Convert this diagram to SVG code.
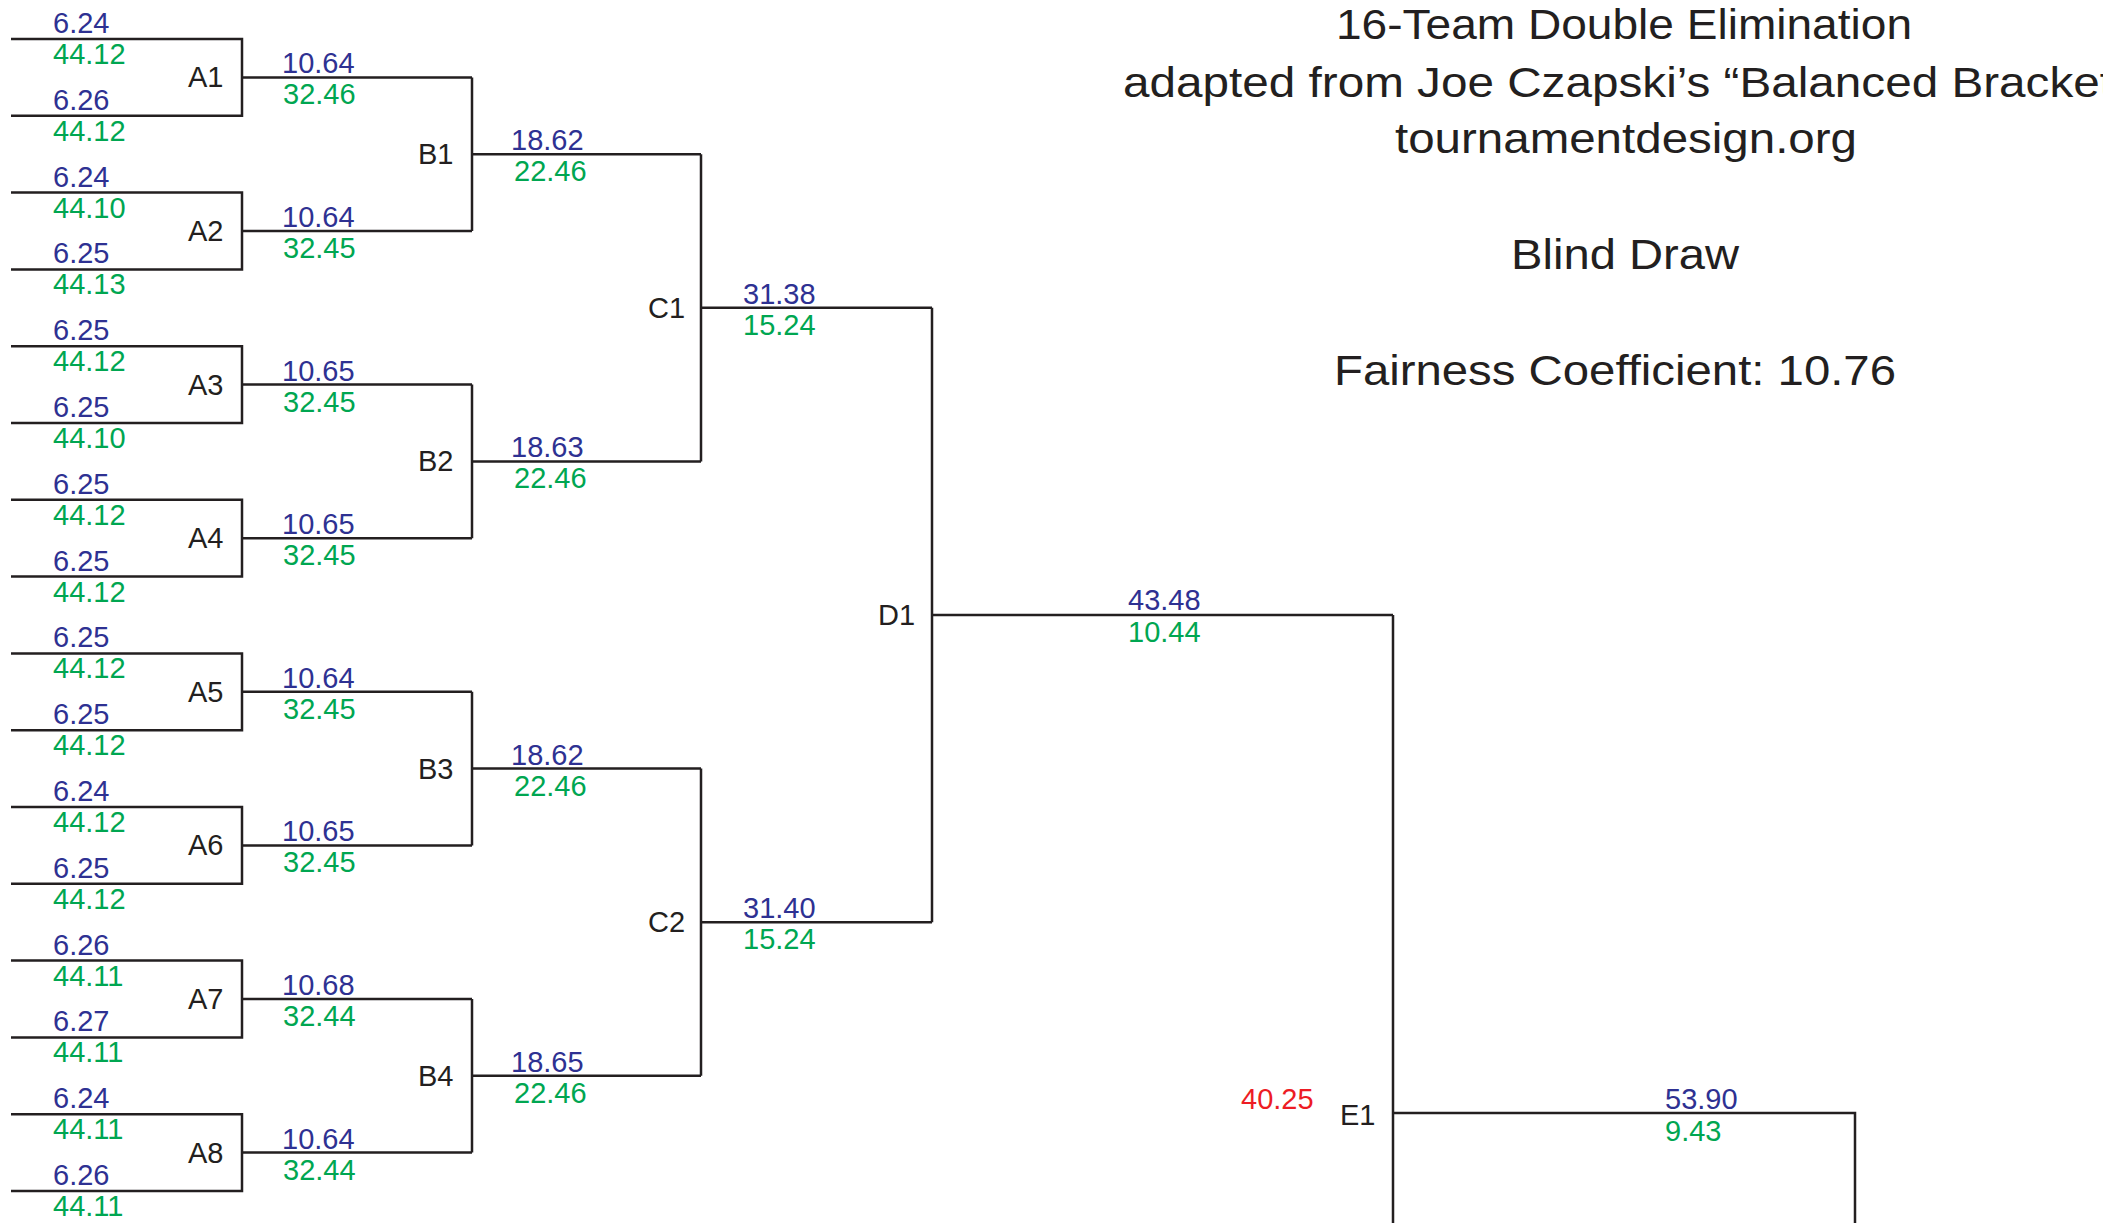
<svg xmlns="http://www.w3.org/2000/svg" width="2103" height="1223" viewBox="0 0 2103 1223">
<style>
text{font-family:"Liberation Sans","DejaVu Sans",sans-serif;}
.b{fill:#2e3192;font-size:29px;}
.g{fill:#00a651;font-size:29px;}
.r{fill:#ed1c24;font-size:29px;}
.n{fill:#231f20;font-size:29px;}
.t{fill:#231f20;font-size:43px;}
.ln{fill:none;stroke:#231f20;stroke-width:2.5;stroke-linejoin:miter;stroke-linecap:butt;}
</style>
<rect width="2103" height="1223" fill="#ffffff"/>
<g id="connectors" class="ln">
<path d="M11 39 H242 V115.8 H11 M242 77.4 H472"/>
<path d="M11 192.6 H242 V269.4 H11 M242 231 H472"/>
<path d="M11 346.2 H242 V423 H11 M242 384.6 H472"/>
<path d="M11 499.8 H242 V576.6 H11 M242 538.2 H472"/>
<path d="M11 653.4 H242 V730.2 H11 M242 691.8 H472"/>
<path d="M11 807 H242 V883.8 H11 M242 845.4 H472"/>
<path d="M11 960.6 H242 V1037.4 H11 M242 999 H472"/>
<path d="M11 1114.2 H242 V1191 H11 M242 1152.6 H472"/>
<path d="M472 77.4 V231 M472 154.2 H701"/>
<path d="M472 384.6 V538.2 M472 461.4 H701"/>
<path d="M472 691.8 V845.4 M472 768.6 H701"/>
<path d="M472 999 V1152.6 M472 1075.8 H701"/>
<path d="M701 154.2 V461.4 M701 307.8 H932"/>
<path d="M701 768.6 V1075.8 M701 922.2 H932"/>
<path d="M932 307.8 V922.2 M932 615 H1393"/>
<path d="M1393 615 V1223 M1393 1113 H1855 V1223"/>
</g>
<g id="title">
<text class="t" x="1336" y="39" textLength="576" lengthAdjust="spacingAndGlyphs">16-Team Double Elimination</text>
<text class="t" x="1123" y="97" textLength="990" lengthAdjust="spacingAndGlyphs">adapted from Joe Czapski’s “Balanced Bracket</text>
<text class="t" x="1395" y="153" textLength="462" lengthAdjust="spacingAndGlyphs">tournamentdesign.org</text>
<text class="t" x="1511" y="269" textLength="228" lengthAdjust="spacingAndGlyphs">Blind Draw</text>
<text class="t" x="1334" y="385" textLength="562" lengthAdjust="spacingAndGlyphs">Fairness Coefficient: 10.76</text>
</g>
<g id="teams">
<text class="b" x="53" y="33">6.24</text><text class="g" x="53" y="64">44.12</text>
<text class="b" x="53" y="109.8">6.26</text><text class="g" x="53" y="140.8">44.12</text>
<text class="b" x="53" y="186.6">6.24</text><text class="g" x="53" y="217.6">44.10</text>
<text class="b" x="53" y="263.4">6.25</text><text class="g" x="53" y="294.4">44.13</text>
<text class="b" x="53" y="340.2">6.25</text><text class="g" x="53" y="371.2">44.12</text>
<text class="b" x="53" y="417">6.25</text><text class="g" x="53" y="448">44.10</text>
<text class="b" x="53" y="493.8">6.25</text><text class="g" x="53" y="524.8">44.12</text>
<text class="b" x="53" y="570.6">6.25</text><text class="g" x="53" y="601.6">44.12</text>
<text class="b" x="53" y="647.4">6.25</text><text class="g" x="53" y="678.4">44.12</text>
<text class="b" x="53" y="724.2">6.25</text><text class="g" x="53" y="755.2">44.12</text>
<text class="b" x="53" y="801">6.24</text><text class="g" x="53" y="832">44.12</text>
<text class="b" x="53" y="877.8">6.25</text><text class="g" x="53" y="908.8">44.12</text>
<text class="b" x="53" y="954.6">6.26</text><text class="g" x="53" y="985.6">44.11</text>
<text class="b" x="53" y="1031.4">6.27</text><text class="g" x="53" y="1062.4">44.11</text>
<text class="b" x="53" y="1108.2">6.24</text><text class="g" x="53" y="1139.2">44.11</text>
<text class="b" x="53" y="1185">6.26</text><text class="g" x="53" y="1216">44.11</text>
</g>
<g id="A1"><text class="n" x="188" y="87.4">A1</text><text class="b" x="282" y="73.4">10.64</text><text class="g" x="283" y="104.4">32.46</text></g>
<g id="A2"><text class="n" x="188" y="241">A2</text><text class="b" x="282" y="227">10.64</text><text class="g" x="283" y="258">32.45</text></g>
<g id="A3"><text class="n" x="188" y="394.6">A3</text><text class="b" x="282" y="380.6">10.65</text><text class="g" x="283" y="411.6">32.45</text></g>
<g id="A4"><text class="n" x="188" y="548.2">A4</text><text class="b" x="282" y="534.2">10.65</text><text class="g" x="283" y="565.2">32.45</text></g>
<g id="A5"><text class="n" x="188" y="701.8">A5</text><text class="b" x="282" y="687.8">10.64</text><text class="g" x="283" y="718.8">32.45</text></g>
<g id="A6"><text class="n" x="188" y="855.4">A6</text><text class="b" x="282" y="841.4">10.65</text><text class="g" x="283" y="872.4">32.45</text></g>
<g id="A7"><text class="n" x="188" y="1009">A7</text><text class="b" x="282" y="995">10.68</text><text class="g" x="283" y="1026">32.44</text></g>
<g id="A8"><text class="n" x="188" y="1162.6">A8</text><text class="b" x="282" y="1148.6">10.64</text><text class="g" x="283" y="1179.6">32.44</text></g>
<g id="B1"><text class="n" x="418" y="164.2">B1</text><text class="b" x="511" y="150.2">18.62</text><text class="g" x="514" y="181.2">22.46</text></g>
<g id="B2"><text class="n" x="418" y="471.4">B2</text><text class="b" x="511" y="457.4">18.63</text><text class="g" x="514" y="488.4">22.46</text></g>
<g id="B3"><text class="n" x="418" y="778.6">B3</text><text class="b" x="511" y="764.6">18.62</text><text class="g" x="514" y="795.6">22.46</text></g>
<g id="B4"><text class="n" x="418" y="1085.8">B4</text><text class="b" x="511" y="1071.8">18.65</text><text class="g" x="514" y="1102.8">22.46</text></g>
<g id="C1"><text class="n" x="648" y="317.8">C1</text><text class="b" x="743" y="303.8">31.38</text><text class="g" x="743" y="334.8">15.24</text></g>
<g id="C2"><text class="n" x="648" y="932.2">C2</text><text class="b" x="743" y="918.2">31.40</text><text class="g" x="743" y="949.2">15.24</text></g>
<g id="D1"><text class="n" x="878" y="625">D1</text><text class="b" x="1128" y="610">43.48</text><text class="g" x="1128" y="642">10.44</text></g>
<g id="E1"><text class="r" x="1241" y="1109">40.25</text><text class="n" x="1340" y="1125">E1</text><text class="b" x="1665" y="1109">53.90</text><text class="g" x="1665" y="1141">9.43</text></g>
</svg>
